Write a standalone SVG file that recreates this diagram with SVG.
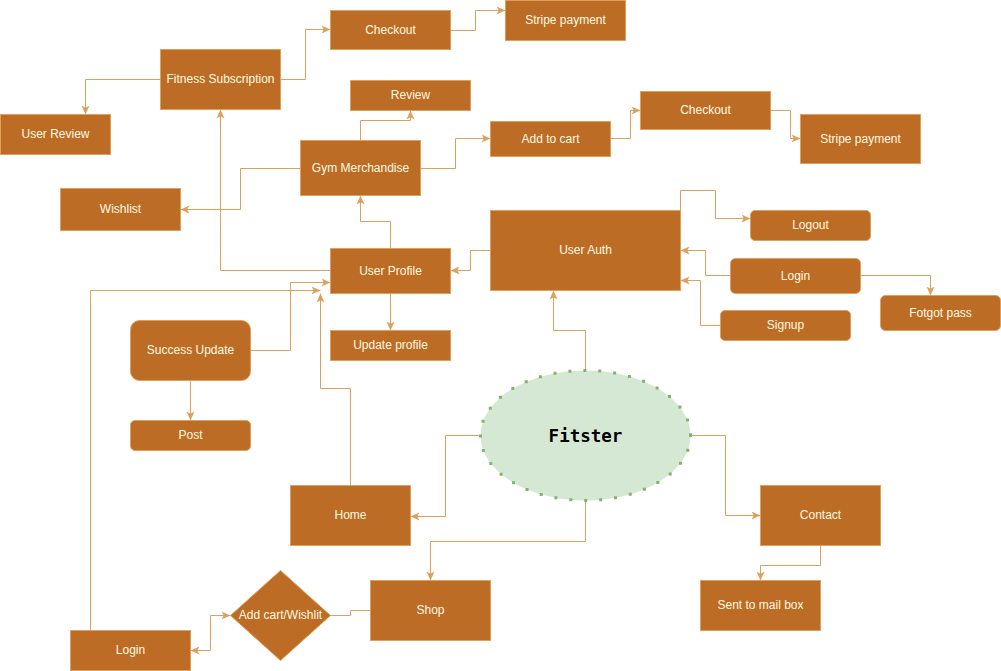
<svg xmlns="http://www.w3.org/2000/svg" width="1001" height="671" viewBox="0 0 1001 671">
<defs>
<style>
.n{fill:#BC6C25;stroke:#DDA15E;stroke-width:1}
.t{font-family:"Liberation Sans",Arial,sans-serif;font-size:12px;fill:#FEFAE0;text-anchor:middle;dominant-baseline:central}
.c{fill:none;stroke:#DDA15E;stroke-width:1}
.e{fill:#d5e8d4;stroke:#82b366;stroke-width:3;stroke-dasharray:0 15;stroke-linecap:square}
.ft{font-family:"DejaVu Sans Mono","Liberation Mono",monospace;font-size:17.5px;font-weight:bold;fill:#000;text-anchor:middle;dominant-baseline:central}
</style>
<marker id="a" viewBox="0 0 10 10" refX="10" refY="5" markerWidth="9" markerHeight="9" markerUnits="userSpaceOnUse" orient="auto-start-reverse">
<path d="M0,0.5 L10,5 L0,9.5 L2.5,5 z" fill="#DDA15E"/>
</marker>
</defs>
<rect width="1001" height="671" fill="#ffffff"/>
<g transform="translate(0.5,0.5)">
<g id="connectors">
<path class="c" d="M160,79 H85 V114" marker-end="url(#a)"/>
<path class="c" d="M280,79 H305 V29 H330" marker-end="url(#a)"/>
<path class="c" d="M450,30 H475 V10 H505" marker-end="url(#a)"/>
<path class="c" d="M360,140 V120 H410 V110" marker-end="url(#a)"/>
<path class="c" d="M420,168 H455 V138 H490" marker-end="url(#a)"/>
<path class="c" d="M610,138 H630 V110 H640" marker-end="url(#a)"/>
<path class="c" d="M770,110 H790 V138 H800" marker-end="url(#a)"/>
<path class="c" d="M300,168 H240 V209 H180" marker-end="url(#a)"/>
<path class="c" d="M330,270 H220 V109" marker-end="url(#a)"/>
<path class="c" d="M390,248 V221 H360 V195" marker-end="url(#a)"/>
<path class="c" d="M490,250 H470 V270 H450" marker-end="url(#a)"/>
<path class="c" d="M585,370 V330 H553 V290" marker-end="url(#a)"/>
<path class="c" d="M680,210 V190 H715 V218 H750" marker-end="url(#a)"/>
<path class="c" d="M730,275 H705 V250 H680" marker-end="url(#a)"/>
<path class="c" d="M720,325 H700 V280 H680" marker-end="url(#a)"/>
<path class="c" d="M860,275 H930 V295" marker-end="url(#a)"/>
<path class="c" d="M390,293 V330" marker-end="url(#a)"/>
<path class="c" d="M250,350 H290 V282 H330" marker-end="url(#a)"/>
<path class="c" d="M190,380 V420" marker-end="url(#a)"/>
<path class="c" d="M350,485 V388 H320 V293" marker-end="url(#a)"/>
<path class="c" d="M90,630 V290 H320" marker-end="url(#a)"/>
<path class="c" d="M480,435 H445 V516 H410" marker-end="url(#a)"/>
<path class="c" d="M585,500 V541 H430 V580" marker-end="url(#a)"/>
<path class="c" d="M690,435 H725 V515 H760" marker-end="url(#a)"/>
<path class="c" d="M820,545 V565 H760 V580" marker-end="url(#a)"/>
<path class="c" d="M370,610 H350 V615 H330"/>
<path class="c" d="M230,615 H210 V650 H190" marker-start="url(#a)" marker-end="url(#a)"/>
</g>
<g id="fitness-subscription"><rect class="n" x="160" y="49" width="120" height="60"/><text class="t" x="220" y="78.5">Fitness Subscription</text></g>
<g id="user-review"><rect class="n" x="0" y="114" width="110" height="40"/><text class="t" x="55" y="133.5">User Review</text></g>
<g id="wishlist"><rect class="n" x="60" y="188" width="120" height="42"/><text class="t" x="120" y="208.5">Wishlist</text></g>
<g id="checkout-1"><rect class="n" x="330" y="10" width="120" height="39"/><text class="t" x="390" y="29">Checkout</text></g>
<g id="stripe-payment-1"><rect class="n" x="505" y="0" width="120" height="40"/><text class="t" x="565" y="19.5">Stripe payment</text></g>
<g id="review"><rect class="n" x="350" y="80" width="120" height="30"/><text class="t" x="410" y="94.5">Review</text></g>
<g id="gym-merchandise"><rect class="n" x="300" y="140" width="120" height="55"/><text class="t" x="360" y="167">Gym Merchandise</text></g>
<g id="add-to-cart"><rect class="n" x="490" y="121" width="120" height="35"/><text class="t" x="550" y="138">Add to cart</text></g>
<g id="checkout-2"><rect class="n" x="640" y="91" width="130" height="38"/><text class="t" x="705" y="109.5">Checkout</text></g>
<g id="stripe-payment-2"><rect class="n" x="800" y="114" width="120" height="49"/><text class="t" x="860" y="138">Stripe payment</text></g>
<g id="user-auth"><rect class="n" x="490" y="210" width="190" height="80"/><text class="t" x="585" y="249.5">User Auth</text></g>
<g id="logout"><rect class="n" x="750" y="210" width="120" height="30" rx="4.5"/><text class="t" x="810" y="224.5">Logout</text></g>
<g id="login-auth"><rect class="n" x="730" y="258" width="130" height="35" rx="5"/><text class="t" x="795" y="275">Login</text></g>
<g id="signup"><rect class="n" x="720" y="310" width="130" height="30" rx="4.5"/><text class="t" x="785" y="324.5">Signup</text></g>
<g id="forgot-pass"><rect class="n" x="880" y="295" width="120" height="35" rx="5"/><text class="t" x="940" y="312">Fotgot pass</text></g>
<g id="user-profile"><rect class="n" x="330" y="248" width="120" height="45"/><text class="t" x="390" y="270">User Profile</text></g>
<g id="update-profile"><rect class="n" x="330" y="330" width="120" height="30"/><text class="t" x="390" y="344.5">Update profile</text></g>
<g id="success-update"><rect class="n" x="130" y="320" width="120" height="60" rx="9"/><text class="t" x="190" y="349.5">Success Update</text></g>
<g id="post"><rect class="n" x="130" y="420" width="120" height="30" rx="4.5"/><text class="t" x="190" y="434.5">Post</text></g>
<g id="fitster"><ellipse class="e" cx="585" cy="435" rx="105" ry="65"/><text class="ft" x="585" y="435">Fitster</text></g>
<g id="home"><rect class="n" x="290" y="485" width="120" height="60"/><text class="t" x="350" y="514.5">Home</text></g>
<g id="contact"><rect class="n" x="760" y="485" width="120" height="60"/><text class="t" x="820" y="514.5">Contact</text></g>
<g id="sent-to-mail-box"><rect class="n" x="700" y="580" width="120" height="50"/><text class="t" x="760" y="604.5">Sent to mail box</text></g>
<g id="shop"><rect class="n" x="370" y="580" width="120" height="60"/><text class="t" x="430" y="609.5">Shop</text></g>
<g id="add-cart-wishlist"><path class="n" d="M280,570 L330,615 L280,660 L230,615 Z"/><text class="t" x="280" y="614.5">Add cart/Wishlit</text></g>
<g id="login-shop"><rect class="n" x="70" y="630" width="120" height="40"/><text class="t" x="130" y="649.5">Login</text></g>
</g>
</svg>
